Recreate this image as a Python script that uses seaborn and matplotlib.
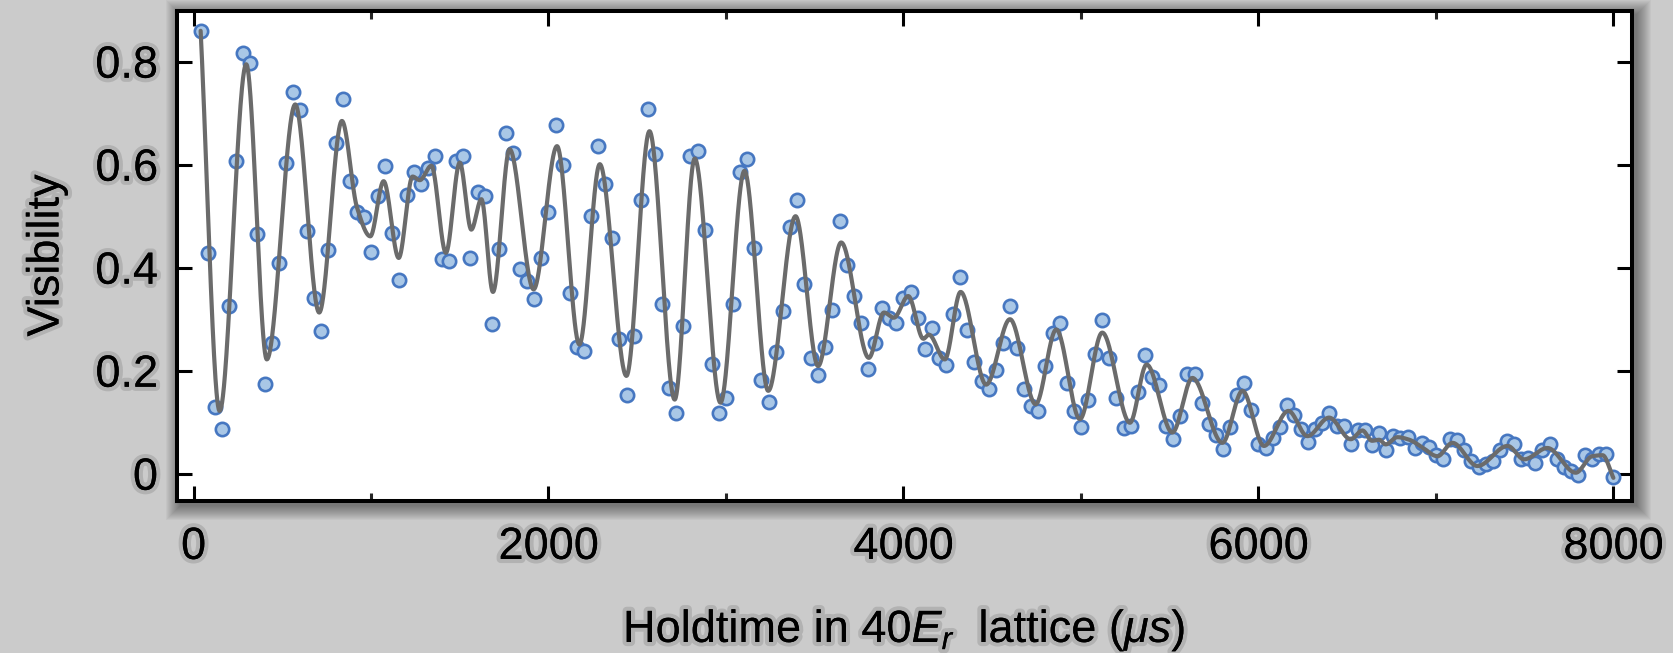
import numpy as np
import pandas as pd
import matplotlib
matplotlib.use("Agg")
import matplotlib.pyplot as plt
import matplotlib.patheffects as pe
from matplotlib.patches import Rectangle
from matplotlib.ticker import FixedLocator, FuncFormatter
import seaborn as sns

# ---------------- data ----------------
hold_time = np.arange(40, 8040, 40)  # sampling every 40 us

visibility = [
    0.860, 0.429, 0.129, 0.087, 0.325, 0.607, 0.816, 0.797, 0.465, 0.175,
    0.254, 0.409, 0.604, 0.741, 0.707, 0.471, 0.342, 0.277, 0.434, 0.642,
    0.727, 0.569, 0.509, 0.498, 0.430, 0.540, 0.597, 0.467, 0.376, 0.542,
    0.586, 0.563, 0.593, 0.617, 0.417, 0.414, 0.607, 0.617, 0.419, 0.547,
    0.539, 0.290, 0.437, 0.662, 0.622, 0.397, 0.374, 0.339, 0.419, 0.508,
    0.678, 0.599, 0.350, 0.246, 0.238, 0.500, 0.636, 0.562, 0.458, 0.261,
    0.152, 0.267, 0.531, 0.709, 0.621, 0.329, 0.166, 0.117, 0.287, 0.617,
    0.627, 0.474, 0.214, 0.118, 0.148, 0.329, 0.586, 0.612, 0.438, 0.182,
    0.139, 0.236, 0.316, 0.480, 0.531, 0.369, 0.225, 0.192, 0.247, 0.317,
    0.491, 0.406, 0.345, 0.293, 0.204, 0.254, 0.322, 0.302, 0.293, 0.342,
    0.353, 0.302, 0.243, 0.283, 0.225, 0.211, 0.311, 0.382, 0.280, 0.216,
    0.180, 0.164, 0.201, 0.254, 0.326, 0.245, 0.164, 0.131, 0.122, 0.209,
    0.274, 0.293, 0.177, 0.122, 0.091, 0.143, 0.232, 0.298, 0.225, 0.148,
    0.089, 0.093, 0.159, 0.230, 0.188, 0.172, 0.093, 0.068, 0.112, 0.193,
    0.193, 0.138, 0.097, 0.076, 0.049, 0.091, 0.153, 0.177, 0.123, 0.057,
    0.050, 0.070, 0.091, 0.133, 0.115, 0.086, 0.062, 0.086, 0.099, 0.118,
    0.093, 0.093, 0.057, 0.085, 0.085, 0.055, 0.080, 0.047, 0.073, 0.070,
    0.071, 0.050, 0.060, 0.052, 0.036, 0.028, 0.067, 0.065, 0.047, 0.025,
    0.013, 0.018, 0.025, 0.047, 0.063, 0.057, 0.028, 0.031, 0.021, 0.047,
    0.057, 0.028, 0.013, 0.005, -0.003, 0.036, 0.029, 0.039, 0.039, -0.006,
]

# key points (extrema / shoulders) of the fitted curve
fit_time = [
    40, 147, 297, 413, 573, 708, 836, 921, 996, 1071, 1156, 1234, 1275, 1340,
    1422, 1500, 1565, 1622, 1687, 1781, 1916, 2048, 2174, 2289, 2439, 2569,
    2711, 2824, 2969, 3104, 3238, 3392, 3519, 3649, 3805, 3890, 3946, 4027,
    4112, 4143, 4233, 4322, 4466, 4600, 4745, 4861, 4994, 5120, 5276, 5370,
    5515, 5628, 5797, 5910, 6031, 6169, 6276, 6398, 6520, 6586, 6640, 6680,
    6717, 6783, 6850, 6920, 7009, 7093, 7234, 7404, 7497, 7628, 7788, 7880,
    7939, 8000,
]
fit_value = [
    0.860, 0.122, 0.795, 0.222, 0.717, 0.313, 0.685, 0.517, 0.461, 0.568,
    0.419, 0.577, 0.570, 0.598, 0.429, 0.604, 0.474, 0.533, 0.353, 0.630,
    0.358, 0.636, 0.251, 0.601, 0.190, 0.665, 0.144, 0.612, 0.138, 0.588,
    0.161, 0.500, 0.209, 0.449, 0.225, 0.313, 0.303, 0.345, 0.262, 0.270,
    0.222, 0.353, 0.173, 0.300, 0.135, 0.280, 0.106, 0.274, 0.099, 0.212,
    0.080, 0.186, 0.060, 0.161, 0.054, 0.122, 0.073, 0.109, 0.067, 0.084,
    0.064, 0.066, 0.057, 0.071, 0.066, 0.052, 0.034, 0.060, 0.015, 0.054,
    0.028, 0.050, 0.002, 0.034, 0.036, -0.008,
]

x_ticks = [0, 2000, 4000, 6000, 8000]
x_minor_ticks = [1000, 3000, 5000, 7000]
y_ticks = [0, 0.2, 0.4, 0.6, 0.8]


def pchip(xk, yk, xq):
    xk = np.asarray(xk, float)
    yk = np.asarray(yk, float)
    h = np.diff(xk)
    d = np.diff(yk) / h
    n = len(xk)
    m = np.zeros(n)
    for k in range(1, n - 1):
        if d[k - 1] * d[k] > 0:
            w1 = 2 * h[k] + h[k - 1]
            w2 = h[k] + 2 * h[k - 1]
            m[k] = (w1 + w2) / (w1 / d[k - 1] + w2 / d[k])
    m[0] = d[0]
    m[-1] = d[-1]
    idx = np.clip(np.searchsorted(xk, xq) - 1, 0, n - 2)
    t = (xq - xk[idx]) / h[idx]
    h00 = 2 * t**3 - 3 * t**2 + 1
    h10 = t**3 - 2 * t**2 + t
    h01 = -2 * t**3 + 3 * t**2
    h11 = t**3 - t**2
    return h00 * yk[idx] + h10 * h[idx] * m[idx] + h01 * yk[idx + 1] + h11 * h[idx] * m[idx + 1]


curve_t = np.linspace(fit_time[0], fit_time[-1], 4000)
curve_df = pd.DataFrame({"t": curve_t, "v": pchip(fit_time, fit_value, curve_t)})
data_df = pd.DataFrame({"t": hold_time, "v": visibility})

# ---------------- style ----------------
sns.set_theme(style="ticks")
plt.rcParams["font.family"] = ["Liberation Sans", "DejaVu Sans"]
plt.rcParams["mathtext.fontset"] = "custom"
plt.rcParams["mathtext.rm"] = "Liberation Sans"
plt.rcParams["mathtext.it"] = "Liberation Sans:italic"
plt.rcParams["text.color"] = "black"
plt.rcParams["axes.labelcolor"] = "black"

BG = "#cbcbcb"
fig = plt.figure(figsize=(16.73, 6.53), dpi=100, facecolor=BG)
L, R, B, T = 0.1056, 0.9753, 0.2335, 0.9836
ax = fig.add_axes([L, B, R - L, T - B])
ax.set_facecolor("white")

# soft drop shadow behind the axes box
W, H = fig.get_size_inches() * fig.dpi
for k in range(1, 16):
    fig.add_artist(Rectangle((L + (4 - k) / W, B + (-4 - k) / H),
                             (R - L) + 2 * k / W, (T - B) + 2 * k / H,
                             transform=fig.transFigure, facecolor="black",
                             edgecolor="none", alpha=0.03, zorder=-10))

sns.scatterplot(data=data_df, x="t", y="v", ax=ax, s=92, marker="o",
                facecolor="#a9c7e6", edgecolor="#4677c1", linewidth=1.9,
                zorder=2)
sns.lineplot(data=curve_df, x="t", y="v", ax=ax, color="#6b6b6b",
             linewidth=3.0, estimator=None, sort=False, zorder=3)

ax.set_xlim(-95, 8103)
ax.set_ylim(-0.052, 0.899)
ax.xaxis.set_major_locator(FixedLocator(x_ticks))
ax.xaxis.set_minor_locator(FixedLocator(x_minor_ticks))
ax.yaxis.set_major_locator(FixedLocator(y_ticks))
ax.yaxis.set_major_formatter(FuncFormatter(lambda v, p: "0" if abs(v) < 1e-9 else f"{v:.1f}"))
ax.xaxis.set_major_formatter(FuncFormatter(lambda v, p: f"{int(round(v))}"))

for s in ax.spines.values():
    s.set_linewidth(2.9)
    s.set_color("black")
ax.tick_params(axis="both", which="major", direction="in", length=10.8,
               width=2.2, top=True, right=True, labelsize=32.5, pad=13.5,
               colors="black")
ax.tick_params(axis="x", which="major", pad=19)
ax.tick_params(axis="x", which="minor", direction="in", length=5.8,
               width=2.2, top=True, bottom=True)

halo = [pe.withStroke(linewidth=6, foreground=(0, 0, 0, 0.12))]
for lab in ax.get_xticklabels() + ax.get_yticklabels():
    lab.set_path_effects(halo)

ax.set_xlabel(r"Holdtime in 40$E_r$  lattice ($\mu s$)", fontsize=32.5,
              labelpad=29, color="black", path_effects=halo)
ax.set_ylabel("Visibility", fontsize=32.5, labelpad=20, color="black",
              path_effects=halo)

fig.savefig("out.png", dpi=100, facecolor=BG)
